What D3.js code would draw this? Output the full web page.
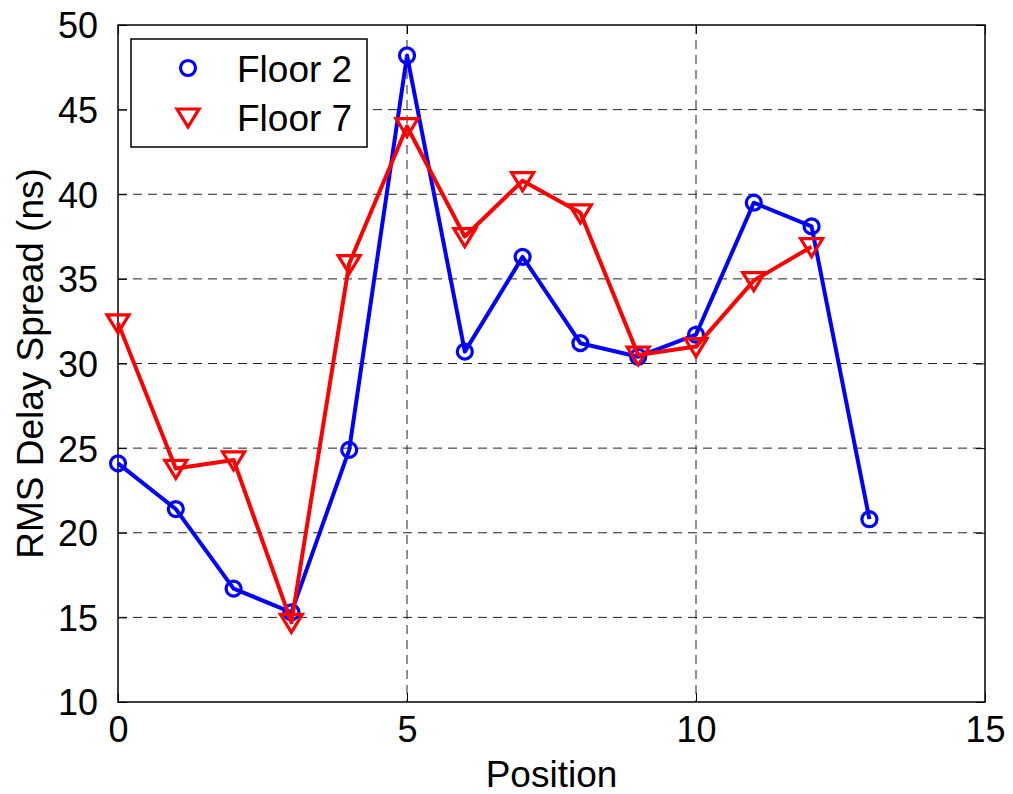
<!DOCTYPE html>
<html lang="en">
<head>
<meta charset="UTF-8">
<title>RMS Delay Spread</title>
<script src="https://cdn.jsdelivr.net/npm/d3@7"></script>
<style>
  body { margin: 0; background: #fff; }
  text { font-family: "Liberation Sans", Arial, Helvetica, sans-serif; fill: #000; }
</style>
</head>
<body>
<svg></svg>
<script>
// data
var positions = [0, 1, 2, 3, 4, 5, 6, 7, 8, 9, 10, 11, 12, 13];
var floor2 = [24.1, 21.4, 16.7, 15.3, 24.9, 48.2, 30.7, 36.3, 31.2, 30.4, 31.7, 39.5, 38.1, 20.8];
var floor7 = [32.4, 23.8, 24.3, 14.7, 35.9, 44.0, 37.5, 40.8, 38.9, 30.5, 31.0, 34.9, 36.9];
var xTicks = [0, 5, 10, 15];
var yTicks = [10, 15, 20, 25, 30, 35, 40, 45, 50];
var seriesNames = ['Floor 2', 'Floor 7'];

var W = 1013, H = 794;
var margin = { top: 25, left: 118, right: 28, bottom: 92 };
var width = W - margin.left - margin.right;
var height = H - margin.top - margin.bottom;

var svg = d3.select('svg').attr('width', W).attr('height', H);
var g = svg.append('g')
    .attr('transform', 'translate(' + margin.left + ',' + margin.top + ')');

var x = d3.scaleLinear().domain([0, 15]).range([0, width]);
var y = d3.scaleLinear().domain([10, 50]).range([height, 0]);

// dashed grid
g.selectAll('.hgrid').data(yTicks.slice(1, -1)).enter().append('line')
    .attr('x1', 0).attr('x2', width)
    .attr('y1', function(d) { return y(d); }).attr('y2', function(d) { return y(d); })
    .attr('stroke', '#222').attr('stroke-width', 1).attr('stroke-dasharray', '9,6');
g.selectAll('.vgrid').data(xTicks.slice(1, -1)).enter().append('line')
    .attr('y1', 0).attr('y2', height)
    .attr('x1', function(d) { return x(d); }).attr('x2', function(d) { return x(d); })
    .attr('stroke', '#222').attr('stroke-width', 1).attr('stroke-dasharray', '9,6');

// axes, ticks pointing inward like matlab
function styleAxis(sel) {
  sel.select('.domain').remove();
  sel.selectAll('.tick line').attr('stroke', '#000').attr('stroke-width', 1);
  sel.selectAll('.tick text').style('font-size', '36px')
     .style('font-family', '"Liberation Sans", Arial, sans-serif').attr('fill', '#000');
}
g.append('g').attr('transform', 'translate(0,' + height + ')')
    .call(d3.axisBottom(x).tickValues(xTicks).tickSize(-9).tickPadding(14))
    .call(styleAxis)
    .selectAll('.tick text').attr('dy', '0.71em');
g.append('g')
    .call(d3.axisLeft(y).tickValues(yTicks).tickSize(-9).tickPadding(20))
    .call(styleAxis)
    .selectAll('.tick text').attr('dy', '0.36em');
g.append('g')
    .call(d3.axisTop(x).tickValues(xTicks).tickSize(-9).tickFormat(''))
    .call(styleAxis);
g.append('g').attr('transform', 'translate(' + width + ',0)')
    .call(d3.axisRight(y).tickValues(yTicks).tickSize(-9).tickFormat(''))
    .call(styleAxis);

g.append('rect').attr('width', width).attr('height', height)
    .attr('fill', 'none').attr('stroke', '#000').attr('stroke-width', 1.5);

// axis labels
svg.append('text')
    .attr('x', margin.left + width / 2).attr('y', 787)
    .attr('text-anchor', 'middle').style('font-size', '37px')
    .text('Position');
svg.append('text')
    .attr('transform', 'translate(43,' + (margin.top + height / 2) + ') rotate(-90)')
    .attr('text-anchor', 'middle').style('font-size', '37px')
    .text('RMS Delay Spread (ns)');

// series
var line = d3.line()
    .x(function(d, i) { return x(positions[i]); })
    .y(function(d) { return y(d); });

var tri = 'M-11,-8L11,-8L0,10Z';

g.append('path').datum(floor2)
    .attr('fill', 'none').attr('stroke', '#0000ff').attr('stroke-width', 4)
    .attr('stroke-linejoin', 'round').attr('d', line);
g.selectAll('.m2').data(floor2).enter().append('circle')
    .attr('cx', function(d, i) { return x(positions[i]); })
    .attr('cy', function(d) { return y(d); })
    .attr('r', 7.5)
    .attr('fill', 'none').attr('stroke', '#0000ff').attr('stroke-width', 3.2);

g.append('path').datum(floor7)
    .attr('fill', 'none').attr('stroke', '#ff0000').attr('stroke-width', 4)
    .attr('stroke-linejoin', 'round').attr('d', line);
g.selectAll('.m7').data(floor7).enter().append('path')
    .attr('transform', function(d, i) { return 'translate(' + x(positions[i]) + ',' + y(d) + ')'; })
    .attr('d', tri)
    .attr('fill', 'none').attr('stroke', '#ff0000').attr('stroke-width', 3.2)
    .attr('stroke-linejoin', 'miter');

// legend
var legend = svg.append('g').attr('transform', 'translate(131,39)');
legend.append('rect').attr('width', 236).attr('height', 108)
    .attr('fill', '#fff').attr('stroke', '#000').attr('stroke-width', 1.5);
legend.append('circle').attr('cx', 57).attr('cy', 29).attr('r', 7.5)
    .attr('fill', 'none').attr('stroke', '#0000ff').attr('stroke-width', 3.2);
legend.append('path').attr('transform', 'translate(57,78)').attr('d', tri)
    .attr('fill', 'none').attr('stroke', '#ff0000').attr('stroke-width', 3.2);
legend.selectAll('.lt').data(seriesNames).enter().append('text')
    .attr('x', 106).attr('y', function(d, i) { return 43 + i * 49; })
    .style('font-size', '37px')
    .text(function(d) { return d; });
</script>
</body>
</html>
